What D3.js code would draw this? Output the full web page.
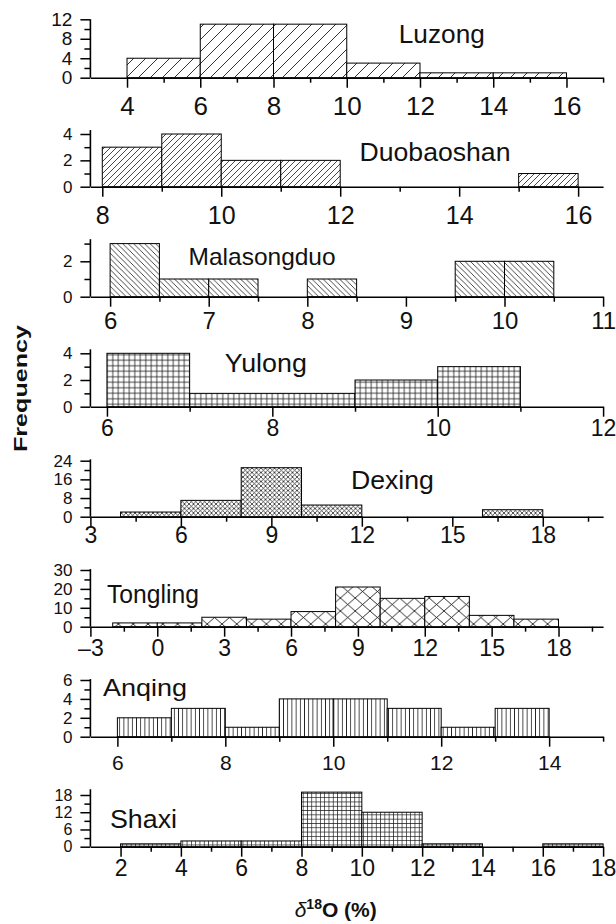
<!DOCTYPE html>
<html><head><meta charset="utf-8">
<script src="https://cdn.jsdelivr.net/npm/d3@7/dist/d3.min.js"></script>
<style>body{margin:0;background:#fff}</style>
</head><body>
<svg id="chart" width="616" height="924"></svg>
<script>
// ---------------- DATA ----------------
const panelNames = ["Luzong","Duobaoshan","Malasongduo","Yulong","Dexing","Tongling","Anqing","Shaxi"];

const luzongFrom = [4,6,8,10,12,14];
const luzongTo   = [6,8,10,12,14,16];
const luzongCount= [4,11,11,3,1,1];
const luzongXTicks = [4,6,8,10,12,14,16];
const luzongYTicks = [0,4,8,12];

const duobaoshanFrom = [8,9,10,11,15];
const duobaoshanTo   = [9,10,11,12,16];
const duobaoshanCount= [3,4,2,2,1];
const duobaoshanXTicks = [8,10,12,14,16];
const duobaoshanYTicks = [0,2,4];

const malasongduoFrom = [6,6.5,7,8,9.5,10];
const malasongduoTo   = [6.5,7,7.5,8.5,10,10.5];
const malasongduoCount= [3,1,1,1,2,2];
const malasongduoXTicks = [6,7,8,9,10,11];
const malasongduoYTicks = [0,2];

const yulongFrom = [6,7,9,10];
const yulongTo   = [7,9,10,11];
const yulongCount= [4,1,2,3];
const yulongXTicks = [6,8,10,12];
const yulongYTicks = [0,2,4];

const dexingFrom = [4,6,8,10,16];
const dexingTo   = [6,8,10,12,18];
const dexingCount= [2,7,21,5,3];
const dexingXTicks = [3,6,9,12,15,18];
const dexingYTicks = [0,8,16,24];

const tonglingFrom = [-2,0,2,4,6,8,10,12,14,16];
const tonglingTo   = [0,2,4,6,8,10,12,14,16,18];
const tonglingCount= [2,2,5,4,8,21,15,16,6,4];
const tonglingXTicks = [-3,0,3,6,9,12,15,18];
const tonglingYTicks = [0,10,20,30];

const anqingFrom = [6,7,8,9,10,11,12,13];
const anqingTo   = [7,8,9,10,11,12,13,14];
const anqingCount= [2,3,1,4,4,3,1,3];
const anqingXTicks = [6,8,10,12,14];
const anqingYTicks = [0,2,4,6];

const shaxiFrom = [2,4,6,8,10,12,16];
const shaxiTo   = [4,6,8,10,12,14,18];
const shaxiCount= [1,2,2,19,12,1,1];
const shaxiXTicks = [2,4,6,8,10,12,14,16,18];
const shaxiYTicks = [0,6,12,18];

const yAxisTitle = "Frequency";

// ---------------- PANEL TABLE ----------------
const panels = [
  {from:luzongFrom,to:luzongTo,count:luzongCount,xTicks:luzongXTicks,yTicks:luzongYTicks,
   xDomain:[3,17], xMinor:[5,7,9,11,13,15,17], yMinor:[2,6,10], yAxisMax:12, pat:"p1"},
  {from:duobaoshanFrom,to:duobaoshanTo,count:duobaoshanCount,xTicks:duobaoshanXTicks,yTicks:duobaoshanYTicks,
   xDomain:[7.8,16.42], xMinor:[9,11,13,15], yMinor:[1,3], yAxisMax:4.3, pat:"p2"},
  {from:malasongduoFrom,to:malasongduoTo,count:malasongduoCount,xTicks:malasongduoXTicks,yTicks:malasongduoYTicks,
   xDomain:[5.8,11], xMinor:[6.5,7.5,8.5,9.5,10.5], yMinor:[1,3], yAxisMax:3.25, pat:"p3"},
  {from:yulongFrom,to:yulongTo,count:yulongCount,xTicks:yulongXTicks,yTicks:yulongYTicks,
   xDomain:[5.8,12], xMinor:[7,9,11], yMinor:[1,3], yAxisMax:4.3, pat:"p4"},
  {from:dexingFrom,to:dexingTo,count:dexingCount,xTicks:dexingXTicks,yTicks:dexingYTicks,
   xDomain:[3,20], xMinor:[4.5,7.5,10.5,13.5,16.5,19.5], yMinor:[4,12,20], yAxisMax:24.6, pat:"p5"},
  {from:tonglingFrom,to:tonglingTo,count:tonglingCount,xTicks:tonglingXTicks,yTicks:tonglingYTicks,
   xDomain:[-3,20], xMinor:[-1.5,1.5,4.5,7.5,10.5,13.5,16.5,19.5], yMinor:[5,15,25], yAxisMax:30.5, pat:"p6"},
  {from:anqingFrom,to:anqingTo,count:anqingCount,xTicks:anqingXTicks,yTicks:anqingYTicks,
   xDomain:[5.5,15], xMinor:[7,9,11,13,15], yMinor:[1,3,5], yAxisMax:6.1, pat:"p7"},
  {from:shaxiFrom,to:shaxiTo,count:shaxiCount,xTicks:shaxiXTicks,yTicks:shaxiYTicks,
   xDomain:[1,18], xMinor:[3,5,7,9,11,13,15,17], yMinor:[3,9,15], yAxisMax:20, pat:"p8"}
];

// ---------------- LAYOUT ----------------
const X0 = 90.4, X1 = 603.1;
const layout = [
  {y0:77.7,  yTopPx:19.3,  lblTop:19,   xFont:26, yFont:19, nx:398.8, ny:43.3,  nf:26, nl:86},
  {y0:186.7, yTopPx:134,   lblTop:20,   xFont:25, yFont:17, nx:359.5, ny:160.7, nf:25, nl:151},
  {y0:296.7, yTopPx:261.3, lblTop:15.7, xFont:24, yFont:17, nx:188.6, ny:265,   nf:24, nl:147},
  {y0:406.7, yTopPx:353.3, lblTop:13.3, xFont:23, yFont:17, nx:224.8, ny:371.7, nf:25, nl:82},
  {y0:516.7, yTopPx:460.7, lblTop:10,   xFont:23, yFont:17, nx:350.9, ny:489.3, nf:26, nl:83},
  {y0:626.7, yTopPx:570,   lblTop:13.3, xFont:23, yFont:17, nx:107,   ny:603.3, nf:25, nl:92},
  {y0:736.7, yTopPx:680,   lblTop:18.3, xFont:21, yFont:17, nx:103,   ny:695.7, nf:24, nl:84},
  {y0:846.7, yTopPx:795,   lblTop:13.3, xFont:23, yFont:16, nx:110,   ny:827.7, nf:26, nl:67}
];

const FONT = "'Liberation Sans', Arial, Helvetica, sans-serif";
const svg = d3.select("#chart");
svg.append("rect").attr("width",616).attr("height",924).attr("fill","#fff");

// ---------------- PATTERNS ----------------
const defs = svg.append("defs");
function pattern(id, w, h, d, sw) {
  const p = defs.append("pattern").attr("id", id).attr("patternUnits","userSpaceOnUse")
    .attr("width", w).attr("height", h);
  p.append("rect").attr("width", w).attr("height", h).attr("fill","#fff");
  p.append("path").attr("d", d).attr("stroke","#1a1a1a").attr("stroke-width", sw || 0.8).attr("fill","none");
}
function fwd(s){ return `M0,${s} L${s},0 M${-s/4},${s/4} L${s/4},${-s/4} M${3*s/4},${5*s/4} L${5*s/4},${3*s/4}`; }
function back(s){ return `M0,0 L${s},${s} M${-s/4},${3*s/4} L${s/4},${5*s/4} M${3*s/4},${-s/4} L${5*s/4},${s/4}`; }
function grid(s){ return `M0,${s/2} H${s} M${s/2},0 V${s}`; }
function cross(w,h){ return `M0,0 L${w},${h} M${w},0 L0,${h}`; }
pattern("p1", 12, 12, fwd(12), 0.9);
pattern("p2", 6, 6, fwd(6), 0.8);
pattern("p3", 5.5, 5.5, back(5.5), 0.8);
pattern("p4", 5.5, 5.5, grid(5.5), 0.8);
pattern("p5", 4.5, 4.5, cross(4.5,4.5), 0.75);
pattern("p6", 14.8, 13, cross(14.8,13), 0.9);
pattern("p7", 4.2, 4.2, `M2.1,0 V4.2`, 0.8);
pattern("p8", 4.3, 4.3, grid(4.3), 0.7);

const fmt = v => (v < 0 ? "\u2013" + Math.abs(v) : String(v));

// ---------------- PANELS ----------------
panels.forEach((P, i) => {
  const L = layout[i];
  const x = d3.scaleLinear().domain(P.xDomain).range([X0, X1]);
  const yTopVal = P.yTicks[P.yTicks.length - 1];
  const y = d3.scaleLinear().domain([0, yTopVal]).range([L.y0, L.yTopPx]);
  const g = svg.append("g");

  // bars
  g.selectAll("rect.bar").data(P.count).join("rect")
    .attr("class","bar")
    .attr("x", (d, j) => x(P.from[j]))
    .attr("width", (d, j) => x(P.to[j]) - x(P.from[j]))
    .attr("y", d => y(d))
    .attr("height", d => y(0) - y(d))
    .attr("fill", `url(#${P.pat})`)
    .attr("stroke", "#000").attr("stroke-width", 1);

  // x axis major
  const xa = g.append("g").attr("transform", `translate(0,${L.y0})`)
    .call(d3.axisBottom(x).tickValues(P.xTicks).tickSize(10).tickSizeOuter(0)
      .tickPadding(Math.max(0, L.lblTop - 10)).tickFormat(fmt));
  xa.select(".domain").attr("stroke-width", 1.6);
  xa.selectAll(".tick line").attr("stroke-width", 1.5);
  xa.selectAll("text").attr("font-family", FONT).attr("font-size", L.xFont).attr("fill","#111");
  // x axis minor
  const xm = g.append("g").attr("transform", `translate(0,${L.y0})`)
    .call(d3.axisBottom(x).tickValues(P.xMinor).tickSize(5).tickFormat(""));
  xm.select(".domain").remove();
  xm.selectAll(".tick line").attr("stroke-width", 1.5);

  // y axis line
  g.append("line").attr("x1", X0).attr("x2", X0)
    .attr("y1", y(0)).attr("y2", y(P.yAxisMax))
    .attr("stroke","#000").attr("stroke-width", 1.6);
  const ya = g.append("g").attr("transform", `translate(${X0},0)`)
    .call(d3.axisLeft(y).tickValues(P.yTicks).tickSize(10).tickPadding(8).tickSizeOuter(0).tickFormat(fmt));
  ya.select(".domain").remove();
  ya.selectAll(".tick line").attr("stroke-width", 1.5);
  ya.selectAll("text").attr("font-family", FONT).attr("font-size", L.yFont).attr("fill","#111");
  const ym = g.append("g").attr("transform", `translate(${X0},0)`)
    .call(d3.axisLeft(y).tickValues(P.yMinor).tickSize(6).tickFormat(""));
  ym.select(".domain").remove();
  ym.selectAll(".tick line").attr("stroke-width", 1.5);

  // name label
  g.append("text").attr("x", L.nx).attr("y", L.ny)
    .attr("font-family", FONT).attr("font-size", L.nf).attr("fill","#111")
    .attr("textLength", L.nl).attr("lengthAdjust","spacingAndGlyphs")
    .text(panelNames[i]);
});

// y-axis title
svg.append("text")
  .attr("transform", "translate(27,388.5) rotate(-90)")
  .attr("text-anchor","middle")
  .attr("font-family", FONT).attr("font-weight","bold").attr("font-size", 19)
  .attr("textLength", 127).attr("lengthAdjust","spacingAndGlyphs")
  .attr("fill","#111")
  .text(yAxisTitle);

// x-axis title
const xt = svg.append("text").attr("x", 294.7).attr("y", 916.7)
  .attr("font-family", FONT).attr("font-weight","bold").attr("font-size", 21).attr("fill","#111");
xt.append("tspan").attr("font-style","italic").attr("font-weight","normal").text("\u03b4");
xt.append("tspan").attr("font-size", 14).attr("dy", -8).text("18");
xt.append("tspan").attr("dy", 8).text("O (%)");
</script>
</body></html>
